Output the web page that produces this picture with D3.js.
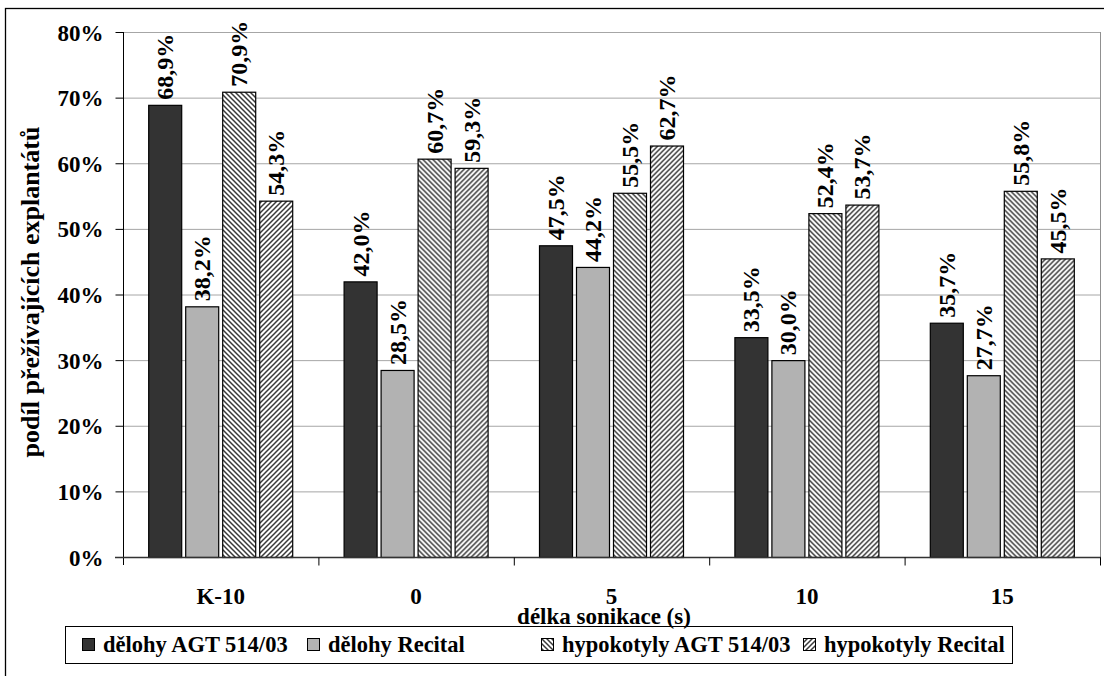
<!DOCTYPE html>
<html>
<head>
<meta charset="utf-8">
<script src="https://cdn.jsdelivr.net/npm/d3@7"></script>
<style>
  html, body { margin: 0; padding: 0; background: #fff; }
  svg { display: block; }
  text { font-family: "Liberation Serif", "Times New Roman", serif; font-weight: bold; fill: #000; }
</style>
</head>
<body>
<svg id="chart" width="1104" height="676"></svg>
<script>
// Sonication lengths on the x axis
const categories = ["K-10", "0", "5", "10", "15"];
// Series names (legend order)
const seriesNames = ["dělohy AGT 514/03", "dělohy Recital", "hypokotyly AGT 514/03", "hypokotyly Recital"];
// Share of surviving explants (%) per series, one value per category
const delohyAGT = [68.9, 42.0, 47.5, 33.5, 35.7];
const delohyRecital = [38.2, 28.5, 44.2, 30.0, 27.7];
const hypokotylyAGT = [70.9, 60.7, 55.5, 52.4, 55.8];
const hypokotylyRecital = [54.3, 59.3, 62.7, 53.7, 45.5];
// Y axis ticks (%)
const yTicks = [0, 10, 20, 30, 40, 50, 60, 70, 80];

const seriesValues = [delohyAGT, delohyRecital, hypokotylyAGT, hypokotylyRecital];

const svg = d3.select("#chart");
const W = 1104, H = 676;

svg.append("rect").attr("width", W).attr("height", H).attr("fill", "#fff");

// Fill patterns for the hatched series
const defs = svg.append("defs");
function hatch(id, dir) {
  const p = defs.append("pattern")
    .attr("id", id)
    .attr("patternUnits", "userSpaceOnUse")
    .attr("width", 5).attr("height", 5);
  p.append("rect").attr("width", 5).attr("height", 5).attr("fill", "#fff");
  const d = dir === "down"
    ? "M-1,-1 L6,6 M-1,4 L1,6 M4,-1 L6,1"
    : "M-1,6 L6,-1 M-1,1 L1,-1 M4,6 L6,4";
  p.append("path").attr("d", d).attr("stroke", "#3a3a3a").attr("stroke-width", 1.5);
}
hatch("hatchDown", "down");
hatch("hatchUp", "up");

const fills = ["#333333", "#b2b2b2", "url(#hatchDown)", "url(#hatchUp)"];

// Outer chart frame
svg.append("rect")
  .attr("x", 5.5).attr("y", 8.5)
  .attr("width", W + 10).attr("height", H + 10)
  .attr("fill", "none").attr("stroke", "#000").attr("stroke-width", 1.3);

// Plot area
const plotLeft = 123, plotRight = 1100, plotTop = 32, plotBottom = 557;

const x0 = d3.scaleBand().domain(categories).range([plotLeft, plotRight]).paddingInner(0).paddingOuter(0);
const x1 = d3.scaleBand().domain(d3.range(seriesNames.length)).range([0, x0.bandwidth()])
  .paddingInner(0.081).paddingOuter(0.681);
const y = d3.scaleLinear().domain([0, 80]).range([plotBottom, plotTop]);

// Gridlines
svg.append("g")
  .selectAll("line")
  .data(yTicks.filter(t => t > 0))
  .join("line")
  .attr("x1", plotLeft).attr("x2", plotRight)
  .attr("y1", d => y(d) + 0.5).attr("y2", d => y(d) + 0.5)
  .attr("stroke", "#a6a6a6").attr("stroke-width", 1);

// Plot-area border (right side)
svg.append("line")
  .attr("x1", plotRight + 0.5).attr("x2", plotRight + 0.5)
  .attr("y1", plotTop).attr("y2", plotBottom)
  .attr("stroke", "#909090").attr("stroke-width", 1);

// Bars
const groups = svg.append("g").selectAll("g")
  .data(categories)
  .join("g")
  .attr("transform", d => `translate(${x0(d)},0)`);

groups.selectAll("rect")
  .data((c, ci) => seriesValues.map((vals, si) => ({ si, v: vals[ci] })))
  .join("rect")
  .attr("x", d => x1(d.si) + 0.5)
  .attr("y", d => y(d.v) + 0.5)
  .attr("width", x1.bandwidth() - 1)
  .attr("height", d => y(0) - y(d.v))
  .attr("fill", d => fills[d.si])
  .attr("stroke", "#000")
  .attr("stroke-width", 1.2);

// Value labels, rotated above each bar
const fmt = v => v.toFixed(1).replace(".", ",") + "%";
groups.selectAll("text.val")
  .data((c, ci) => seriesValues.map((vals, si) => ({ si, v: vals[ci] })))
  .join("text")
  .attr("class", "val")
  .attr("transform", d => `translate(${x1(d.si) + x1.bandwidth() / 2},${y(d.v) - 5}) rotate(-90)`)
  .attr("dy", "0.33em")
  .attr("text-anchor", "start")
  .style("font-size", "24px")
  .text(d => fmt(d.v));

// Y axis
const yAxis = d3.axisLeft(y).tickValues(yTicks).tickSize(8).tickFormat(d => d + "%").tickPadding(12);
const ya = svg.append("g").attr("transform", `translate(${plotLeft + 0.5},0)`).call(yAxis);
ya.select(".domain").attr("stroke", "#000").attr("d", `M0,${plotTop}V${plotBottom + 8}`);
ya.selectAll(".tick line").attr("stroke", "#000");
ya.selectAll(".tick text").style("font-size", "23px").attr("font-family", null).attr("dy", "0.35em");

// X axis
const xa = svg.append("g").attr("transform", `translate(0,${plotBottom + 0.5})`);
xa.append("line")
  .attr("x1", plotLeft - 8).attr("x2", plotRight + 1)
  .attr("stroke", "#333").attr("stroke-width", 1.5);
xa.selectAll("line.tk")
  .data(categories.slice(1).map(c => x0(c)).concat([plotRight]))
  .join("line")
  .attr("class", "tk")
  .attr("x1", d => d + 0.5).attr("x2", d => d + 0.5)
  .attr("y1", 0).attr("y2", 8)
  .attr("stroke", "#000");
xa.selectAll("text")
  .data(categories)
  .join("text")
  .attr("x", d => x0(d) + x0.bandwidth() / 2)
  .attr("y", 46)
  .attr("text-anchor", "middle")
  .style("font-size", "23px")
  .text(d => d);

// Y axis title
svg.append("text")
  .attr("transform", `translate(39,292) rotate(-90)`)
  .attr("text-anchor", "middle")
  .style("font-size", "26px")
  .text("podíl přežívajících explantátů");

// Legend
const legend = svg.append("g");
legend.append("rect")
  .attr("x", 65.5).attr("y", 626.5)
  .attr("width", 947).attr("height", 37)
  .attr("fill", "#fff").attr("stroke", "#000").attr("stroke-width", 1);

const legendX = [82, 307, 541, 803];
const li = legend.selectAll("g.item")
  .data(seriesNames)
  .join("g")
  .attr("class", "item")
  .attr("transform", (d, i) => `translate(${legendX[i]},638)`);
li.append("rect")
  .attr("x", 0.5).attr("y", 0.5)
  .attr("width", 12).attr("height", 12)
  .attr("fill", (d, i) => fills[i])
  .attr("stroke", "#000").attr("stroke-width", 1);
li.append("text")
  .attr("x", 21).attr("y", 14)
  .style("font-size", "22.5px")
  .text(d => d);

// X axis title, sitting on the legend's top edge
svg.append("text")
  .attr("x", 604).attr("y", 624)
  .attr("text-anchor", "middle")
  .style("font-size", "23px")
  .text("délka sonikace (s)");
</script>
</body>
</html>
